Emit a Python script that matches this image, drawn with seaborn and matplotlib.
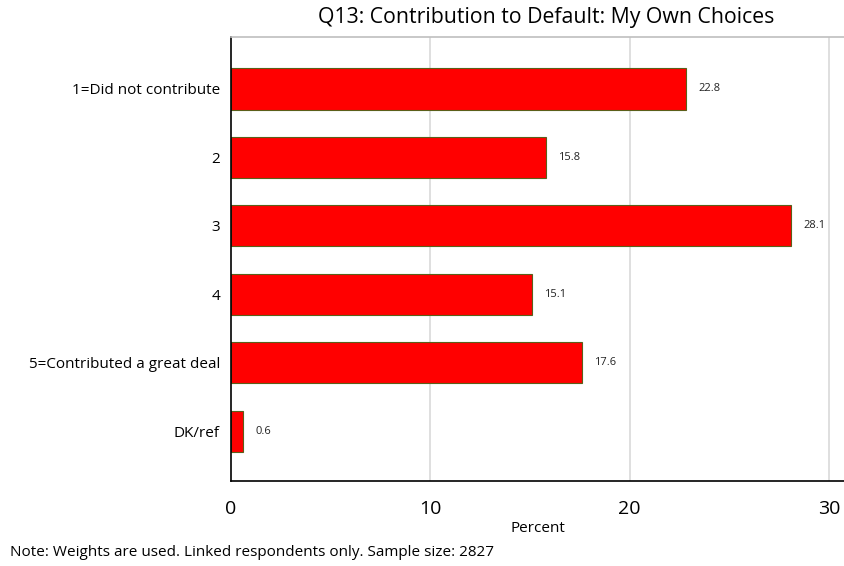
import matplotlib
matplotlib.use("Agg")
import matplotlib.pyplot as plt
import seaborn as sns
import pandas as pd

categories = ["1=Did not contribute", "2", "3", "4", "5=Contributed a great deal", "DK/ref"]
values = [22.8, 15.8, 28.1, 15.1, 17.6, 0.6]
xticks = [0, 10, 20, 30]
title = "Q13: Contribution to Default: My Own Choices"
xlabel = "Percent"
note = "Note: Weights are used. Linked respondents only. Sample size: 2827"

sns.set_theme(style="white")
plt.rcParams["font.family"] = ["Open Sans", "DejaVu Sans"]
plt.rcParams["text.color"] = "black"
plt.rcParams["xtick.color"] = "black"
plt.rcParams["ytick.color"] = "black"
plt.rcParams["axes.labelcolor"] = "black"

df = pd.DataFrame({"cat": categories, "val": values})

fig = plt.figure(figsize=(8.44, 5.66), dpi=100)
ax = fig.add_axes([231/844, 1-481/566, 1-231/844, (481-37)/566])
sns.barplot(data=df, x="val", y="cat", orient="h", color="#ff0000", width=0.6,
            edgecolor="#5b5f1a", linewidth=0.8, saturation=1, ax=ax)

ax.set_xlim(0, 30.75)
ax.set_ylim(5.73, -0.76)
ax.set_xticks(xticks)
ax.set_xticklabels([str(t) for t in xticks], fontsize=14)
ax.tick_params(axis="x", length=8, width=1.2, color="black", pad=6)
ax.tick_params(axis="y", length=0, labelsize=11, pad=8)
for t in xticks[1:]:
    ax.axvline(t, color="#d9d9d9", lw=1.2, zorder=0)
ax.set_axisbelow(True)

for s in ["left", "bottom"]:
    ax.spines[s].set_color("black")
    ax.spines[s].set_linewidth(1.2)
ax.spines["top"].set_color("#bfbfbf")
ax.spines["top"].set_linewidth(1.2)
ax.spines["right"].set_visible(False)

for i, v in enumerate(values):
    ax.annotate(f"{v}", (v, i), xytext=(9, 0), textcoords="offset points",
                va="center", ha="left", fontsize=8, color="#222222")

ax.set_ylabel("")
ax.set_xlabel(xlabel, fontsize=11, labelpad=2)
fig.text(546/844, 1-18/566, title, ha="center", va="center", fontsize=15.3)
fig.text(10/844, 1-552/566, note, ha="left", va="center", fontsize=11)

fig.savefig("out.png", dpi=100)
